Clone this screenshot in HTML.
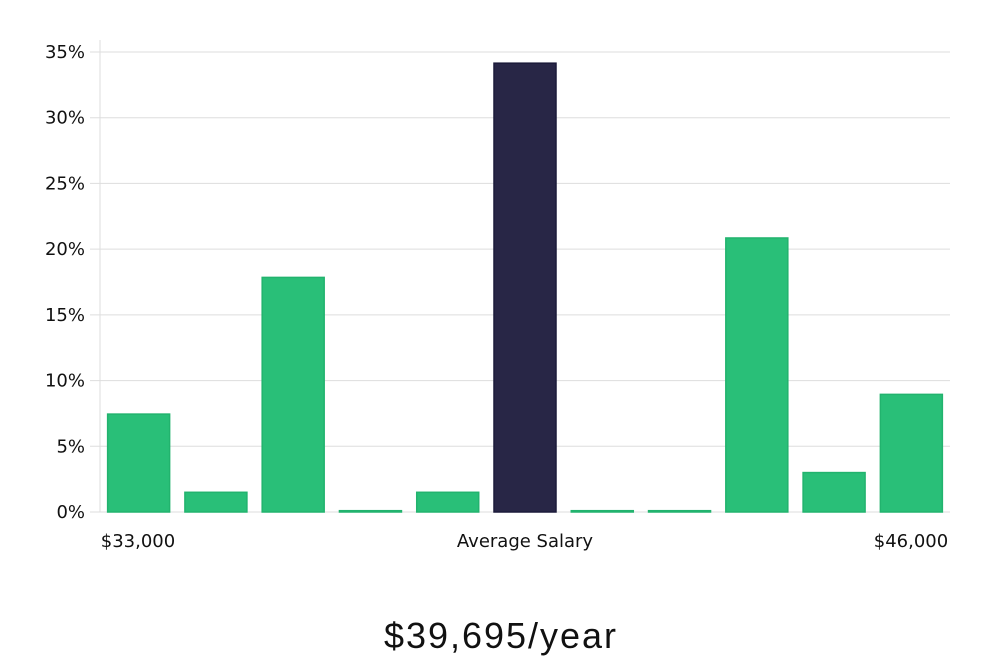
<!DOCTYPE html>
<html><head><meta charset="utf-8"><style>
body{margin:0;background:#fff;width:1000px;height:660px;overflow:hidden;font-family:"Liberation Sans","DejaVu Sans",sans-serif}
</style></head><body>
<svg id="chart" width="1000" height="660" xmlns="http://www.w3.org/2000/svg" font-family="'DejaVu Sans','Liberation Sans',sans-serif">
<g id="grid"></g><g id="bars"></g><g id="ylabels"></g>
<line x1="100" y1="40" x2="100" y2="512" stroke="#ddd" stroke-width="1"/>
<text x="138" y="547" font-size="18" text-anchor="middle" fill="#111">$33,000</text>
<text x="525" y="547" font-size="18" text-anchor="middle" fill="#111">Average Salary</text>
<text x="911" y="547" font-size="18" text-anchor="middle" fill="#111">$46,000</text>
<text x="500" y="648" font-size="36" text-anchor="middle" fill="#111" font-family="'Liberation Sans',sans-serif" textLength="232">$39,695/year</text>
</svg>
<script>
const categories=["b1","b2","b3","b4","b5","avg","b7","b8","b9","b10","b11"];
const values=[7.45,1.5,17.85,0.1,1.5,34.15,0.1,0.1,20.85,3.0,8.95];
const highlight=[false,false,false,false,false,true,false,false,false,false,false];
const yTicks=[0,5,10,15,20,25,30,35];
const NS="http://www.w3.org/2000/svg";
const x0=100,x1=950,yBase=512,yTop=52,yMax=35;
const y=v=>yBase-(v/yMax)*(yBase-yTop);
const slot=(x1-x0)/categories.length;
const grid=document.getElementById('grid'),bars=document.getElementById('bars'),yl=document.getElementById('ylabels');
yTicks.forEach(t=>{
 const l=document.createElementNS(NS,'line');
 
 
 l.setAttribute('x1',90);l.setAttribute('x2',x1);l.setAttribute('y1',y(t));l.setAttribute('y2',y(t));
 l.setAttribute('stroke','#ddd');grid.appendChild(l);
 const tx=document.createElementNS(NS,'text');
 
 
 tx.setAttribute('x',85);tx.setAttribute('y',y(t)+6);tx.setAttribute('text-anchor','end');
 tx.setAttribute('font-size','18');tx.setAttribute('fill','#111');tx.textContent=t+'%';yl.appendChild(tx);
});
values.forEach((v,i)=>{
 const r=document.createElementNS(NS,'rect');
 
 
 const cx=x0+slot*(i+0.5),w=62;
 r.setAttribute('x',cx-w/2);r.setAttribute('width',w);
 r.setAttribute('y',y(v));r.setAttribute('height',Math.max(yBase-y(v),1));
 r.setAttribute('fill',highlight[i]?'#282646':'#29bf78');
 r.setAttribute('stroke',highlight[i]?'#1b1a3a':'#22b36e');r.setAttribute('stroke-width','1.5');
 bars.appendChild(r);
});
</script>
</body></html>
